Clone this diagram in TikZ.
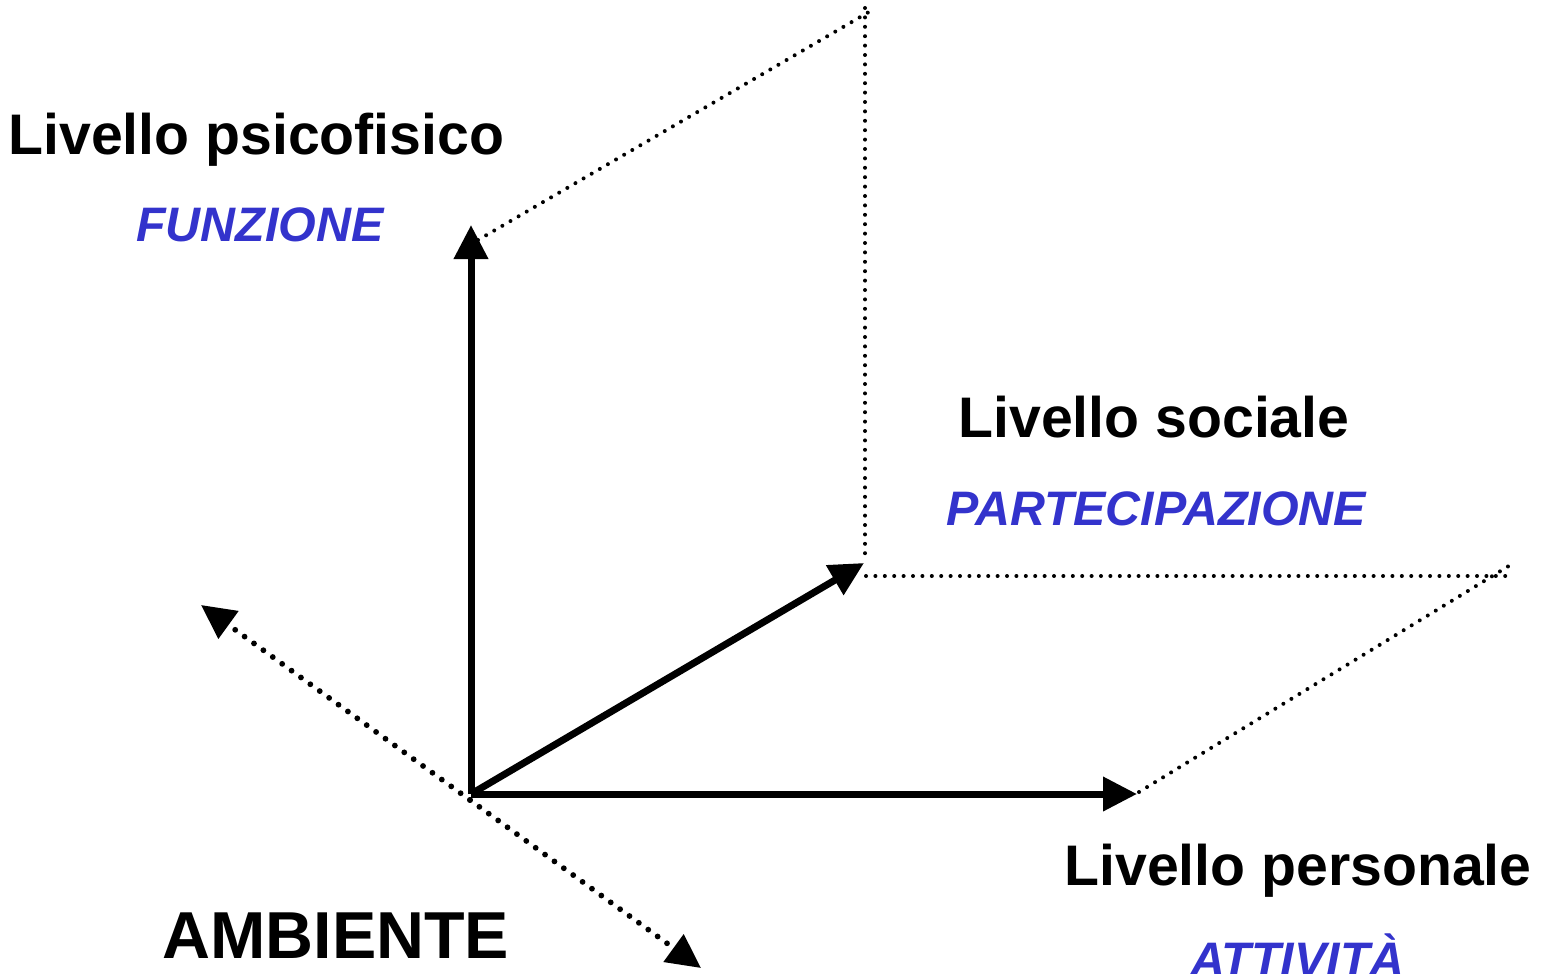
\documentclass[tikz,border=0pt]{standalone}
\usepackage{fontspec}
\setmainfont{Liberation Sans}
\usetikzlibrary{arrows.meta}
\definecolor{lblue}{RGB}{51,51,204}
\begin{document}
\begin{tikzpicture}[x=0.5pt,y=-0.5pt,
  axis/.style={line width=3.5pt,-{Triangle[length=17pt,width=16.5pt]}},
  guide/.style={line width=2pt, line cap=round, dash pattern=on 0pt off 4.7pt},
  env/.style={line width=2.9pt, line cap=round, dash pattern=on 0pt off 5.8pt, -{Triangle[length=17pt,width=16.5pt]}},
  lvl/.style={font=\bfseries\fontsize{28.6}{34}\selectfont, anchor=base west, inner sep=0},
  sub/.style={font=\bfseries\itshape\fontsize{24.2}{28}\selectfont, text=lblue, anchor=base west, inner sep=0},
  big/.style={font=\bfseries\fontsize{33.2}{40}\selectfont, anchor=base west, inner sep=0}]
\useasboundingbox (0,0) rectangle (1545,973);
% key points
\coordinate (o) at (471,794);
\coordinate (c) at (470,800);
\coordinate (up) at (471,225);
\coordinate (right) at (1137,794);
\coordinate (diag) at (864,563);
\coordinate (envA) at (201,605);
\coordinate (envB) at (701,968);
\coordinate (g1) at (478,240);
\coordinate (g2) at (874,9);
\coordinate (g3) at (865,8);
\coordinate (g4) at (865,560);
\coordinate (g5) at (866,576);
\coordinate (g6) at (1514,576);
\coordinate (g7) at (1139,792);
\coordinate (g8) at (1512,564);
% dotted guides
\draw[guide] (g1) -- (g2);
\draw[guide] (g3) -- (g4);
\draw[guide] (g5) -- (g6);
\draw[guide] (g7) -- (g8);
% environment axis
\draw[env] (c) -- (envA);
\draw[env] (c) -- (envB);
% main axes
\draw[axis] (o) -- (up);
\draw[axis] (o) -- (right);
\draw[axis] (o) -- (diag);
% labels
\node[lvl] (psico) at (8,155) {Livello psicofisico};
\node[sub] (funz) at (136,242) {FUNZIONE};
\node[lvl] (soc) at (958,437) {Livello sociale};
\node[sub] (part) at (946,525) {PARTECIPAZIONE};
\node[lvl] (pers) at (1064,885) {Livello personale};
\node[sub] (att) at (1190,976) {ATTIVITÀ};
\node[big] (amb) at (162,958) {AMBIENTE};
\end{tikzpicture}
\end{document}
